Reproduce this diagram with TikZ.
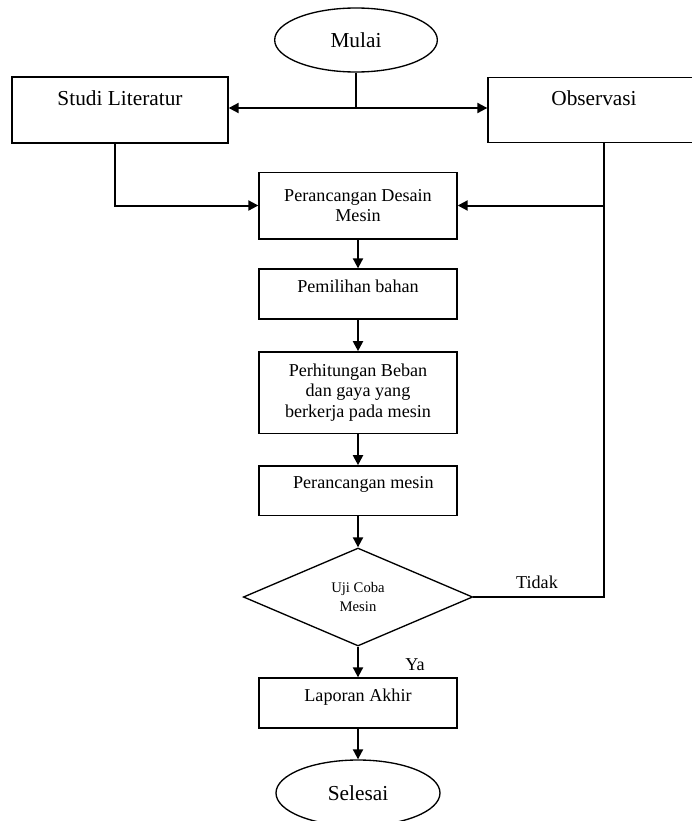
\documentclass[tikz,border=0pt]{standalone}
\usepackage{fontspec}
\setmainfont{Liberation Serif}
\usetikzlibrary{shapes.geometric,arrows.meta}

\tikzset{
  proses/.style={draw, line width=1pt, minimum width=148.5pt, align=center,
    font=\fontsize{13.6}{15.5}\selectfont},
  terminal/.style={draw, ellipse, line width=1pt, font=\fontsize{16}{19}\selectfont},
  garis/.style={line width=1.5pt},
  panah/.style={line width=1.5pt, -{Triangle[length=7.5pt,width=7.5pt]}}
}

\begin{document}
\begin{tikzpicture}[x=0.75pt,y=-0.75pt]
    \useasboundingbox (0,0) rectangle (692,821);

    \node[terminal, minimum width=122pt, minimum height=48pt] (mulai) at (356,40) {Mulai};
    \node[draw, line width=1pt, minimum width=162pt, minimum height=49.5pt, text height=11pt, text depth=18pt,
      font=\fontsize{16}{19}\selectfont] (studi) at (120,110) {Studi Literatur};
    \node[draw, line width=1pt, minimum width=159pt, minimum height=49pt, text height=11pt, text depth=18pt,
      font=\fontsize{16}{19}\selectfont] (obs) at (594,110) {Observasi};

    \node[proses, minimum height=50pt] (desain) at (358,205.5) {Perancangan Desain\\Mesin};
    \node[proses, minimum height=37.5pt, text height=9.5pt, text depth=12pt] (pilih) at (358,294) {Pemilihan bahan};
    \node[proses, minimum height=61pt] (hitung) at (358,392.5) {Perhitungan Beban\\dan gaya yang\\berkerja pada mesin};
    \node[proses, minimum height=37pt, text height=9.5pt, text depth=12pt] (rancang) at (358,490.5) {\hspace{8pt}Perancangan mesin};
    \node[draw, diamond, line width=1pt, aspect=2.34, inner sep=0pt, minimum width=172pt, minimum height=73.5pt,
      align=center, font=\fontsize{11}{14}\selectfont] (uji) at (358,597) {Uji Coba\\Mesin};
    \node[proses, minimum height=37.5pt, text height=9.5pt, text depth=12pt] (lapor) at (358,703) {Laporan Akhir};
    \node[terminal, minimum width=123pt, minimum height=49.5pt] (selesai) at (358,793) {Selesai};

    % cabang dari mulai
    \coordinate (cabang) at (mulai |- 0,108);
    \draw[garis] (mulai.south) -- (cabang);
    \draw[panah] (cabang) -- (studi.east |- cabang);
    \draw[panah] (cabang) -- (obs.west |- cabang);

    % masuk ke perancangan desain
    \coordinate (studibawah) at ([xshift=-3.75pt]studi.south);
    \draw[panah] (studibawah) |- (desain.west);
    \coordinate (obsbawah) at ([xshift=7.5pt]obs.south);
    \draw[garis] (obsbawah) -- (obsbawah |- desain.east);
    \draw[panah] (uji.east) -- (obsbawah |- uji.east) -- (obsbawah |- desain.east) -- (desain.east);

    \draw[panah] (desain) -- (pilih);
    \draw[panah] (pilih) -- (hitung);
    \draw[panah] (hitung) -- (rancang);
    \draw[panah] (rancang) -- (uji);
    \draw[panah] (uji) -- (lapor);
    \draw[panah] (lapor) -- (selesai);

    \node[font=\fontsize{13.6}{15.5}\selectfont] (tidak) at (537,582) {Tidak};
    \node[font=\fontsize{13.6}{15.5}\selectfont] (ya) at (415,665) {Ya};
\end{tikzpicture}
\end{document}
